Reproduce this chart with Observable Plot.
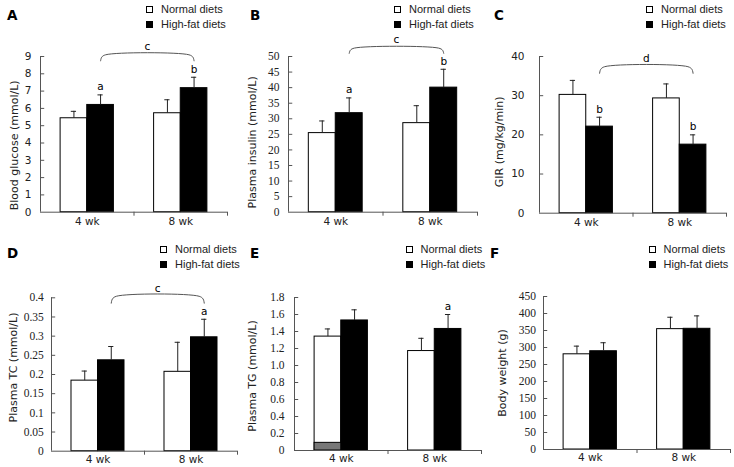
<!DOCTYPE html>
<html><head><meta charset="utf-8">
<script src="https://cdn.jsdelivr.net/npm/d3@7"></script>
<script src="https://cdn.jsdelivr.net/npm/@observablehq/plot@0.6"></script>
<style>
body{margin:0;background:#fff;}
#fig{position:relative;width:734px;height:467px;overflow:hidden;background:#fff;}
.panel{position:absolute;}
.panel svg{overflow:visible;}
.letter{position:absolute;font:bold 13.5px "DejaVu Sans",sans-serif;color:#000;line-height:16px;}
.leg{position:absolute;font:11px "Liberation Sans",sans-serif;color:#222;line-height:15px;white-space:nowrap;}
.leg .sw{display:inline-block;width:5px;height:5px;border:1px solid #000;margin-right:8px;vertical-align:0px;}
</style></head><body><div id="fig"></div>
<script>
// ---- shared categories ----
const weeks = ["4 wk", "8 wk"];
const series = ["Normal diets", "High-fat diets"];

// ---- A: Blood glucose ----
const aNormal = [5.43, 5.72];
const aNormalSE = [0.40, 0.78];
const aHF = [6.20, 7.17];
const aHFSE = [0.58, 0.63];
const aNormalSig = ["", ""];
const aHFSig = ["a", "b"];
const aTicks = [0, 1, 2, 3, 4, 5, 6, 7, 8, 9];
const aTickLabels = ["0", "1", "2", "3", "4", "5", "6", "7", "8", "9"];
const aBracket = [9.1, 8.75, "c"];

// ---- B: Plasma insulin ----
const bNormal = [25.4, 28.6];
const bNormalSE = [3.9, 5.6];
const bHF = [31.8, 40.0];
const bHFSE = [4.9, 5.9];
const bNormalSig = ["", ""];
const bHFSig = ["a", "b"];
const bTicks = [0, 5, 10, 15, 20, 25, 30, 35, 40, 45, 50];
const bTickLabels = ["0", "5", "10", "15", "20", "25", "30", "35", "40", "45", "50"];
const bBracket = [52.7, 51.0, "c"];

// ---- C: GIR ----
const cNormal = [30.2, 29.3];
const cNormalSE = [3.7, 3.7];
const cHF = [22.1, 17.5];
const cHFSE = [2.4, 2.5];
const cNormalSig = ["", ""];
const cHFSig = ["b", "b"];
const cTicks = [0, 10, 20, 30, 40];
const cTickLabels = ["0", "10", "20", "30", "40"];
const cBracket = [37.4, 35.7, "d"];

// ---- D: Plasma TC ----
const dNormal = [0.184, 0.207];
const dNormalSE = [0.025, 0.077];
const dHF = [0.237, 0.297];
const dHFSE = [0.036, 0.047];
const dNormalSig = ["", ""];
const dHFSig = ["", "a"];
const dTicks = [0, 0.05, 0.1, 0.15, 0.2, 0.25, 0.3, 0.35, 0.4];
const dTickLabels = ["0", "0.05", "0.1", "0.15", "0.2", "0.25", "0.3", "0.35", "0.4"];
const dBracket = [0.404, 0.386, "c"];

// ---- E: Plasma TG ----
const eNormal = [1.34, 1.17];
const eNormalSE = [0.09, 0.15];
const eHF = [1.53, 1.43];
const eHFSE = [0.125, 0.17];
const eNormalSig = ["", ""];
const eHFSig = ["", "a"];
const eGrey = [0.09, 0];   // grey patch at foot of the normal 4 wk bar
const eTicks = [0, 0.2, 0.4, 0.6, 0.8, 1.0, 1.2, 1.4, 1.6, 1.8];
const eTickLabels = ["0", "0.2", "0.4", "0.6", "0.8", "1.0", "1.2", "1.4", "1.6", "1.8"];

// ---- F: Body weight ----
const fNormal = [280, 354];
const fNormalSE = [24, 35];
const fHF = [289, 355];
const fHFSE = [25, 38];
const fNormalSig = ["", ""];
const fHFSig = ["", ""];
const fTicks = [0, 50, 100, 150, 200, 250, 300, 350, 400, 450];
const fTickLabels = ["0", "50", "100", "150", "200", "250", "300", "350", "400", "450"];

// ---- panel definitions (data + layout) ----
const SANS = "DejaVu Sans";
const SERIF = "Liberation Serif";
const panels = [
  {id: "A", yLabel: "Blood glucose (mmol/L)", normal: aNormal, normalSE: aNormalSE, hf: aHF, hfSE: aHFSE,
   normalSig: aNormalSig, hfSig: aHFSig, ticks: aTicks, tickLabels: aTickLabels, bracket: aBracket,
   tickFont: SANS, tickFontSize: 10.5,
   pos: {left: 0, top: 0, width: 240, height: 235, ml: 40, mr: 13, mt: 56, mb: 23.3, tickPad: 9, labelOff: 30.5, labelDy: 11, xPad: 5},
   letter: [7, 7], legend: [146, 2]},
  {id: "B", yLabel: "Plasma insulin (mmol/L)", normal: bNormal, normalSE: bNormalSE, hf: bHF, hfSE: bHFSE,
   normalSig: bNormalSig, hfSig: bHFSig, ticks: bTicks, tickLabels: bTickLabels, bracket: bBracket,
   tickFont: SERIF, tickFontSize: 11.5,
   pos: {left: 240, top: 0, width: 240, height: 235, ml: 48, mr: 3, mt: 56, mb: 23.3, tickPad: 9, labelOff: 40, labelDy: 8, xPad: 5},
   letter: [250, 7], legend: [394, 2]},
  {id: "C", yLabel: "GIR (mg/kg/min)", normal: cNormal, normalSE: cNormalSE, hf: cHF, hfSE: cHFSE,
   normalSig: cNormalSig, hfSig: cHFSig, ticks: cTicks, tickLabels: cTickLabels, bracket: cBracket,
   tickFont: SANS, tickFontSize: 10.5,
   pos: {left: 480, top: 0, width: 254, height: 235, ml: 59, mr: 8, mt: 56, mb: 22.3, tickPad: 15, labelOff: 44, labelDy: 7, xPad: 5},
   letter: [494, 7], legend: [646, 2]},
  {id: "D", yLabel: "Plasma TC (mmol/L)", normal: dNormal, normalSE: dNormalSE, hf: dHF, hfSE: dHFSE,
   normalSig: dNormalSig, hfSig: dHFSig, ticks: dTicks, tickLabels: dTickLabels, bracket: dBracket,
   tickFont: SERIF, tickFontSize: 11.5,
   pos: {left: 0, top: 235, width: 245, height: 232, ml: 51, mr: 8, mt: 62.3, mb: 16.3, tickPad: 7.7, labelOff: 42.7, labelDy: -7, xPad: 4},
   letter: [7, 245], legend: [160, 242]},
  {id: "E", yLabel: "Plasma TG (mmol/L)", normal: eNormal, normalSE: eNormalSE, hf: eHF, hfSE: eHFSE,
   normalSig: eNormalSig, hfSig: eHFSig, ticks: eTicks, tickLabels: eTickLabels, bracket: null, grey: eGrey,
   tickFont: SERIF, tickFontSize: 11.5,
   pos: {left: 245, top: 235, width: 245, height: 232, ml: 49, mr: 9, mt: 62, mb: 17, tickPad: 10, labelOff: 46, labelDy: 2, xPad: 4},
   letter: [250, 245], legend: [405.5, 241.5]},
  {id: "F", yLabel: "Body weight (g)", normal: fNormal, normalSE: fNormalSE, hf: fHF, hfSE: fHFSE,
   normalSig: fNormalSig, hfSig: fHFSig, ticks: fTicks, tickLabels: fTickLabels, bracket: null,
   tickFont: SERIF, tickFontSize: 11.5,
   pos: {left: 490, top: 235, width: 244, height: 232, ml: 53, mr: 4, mt: 61, mb: 18, tickPad: 7.6, labelOff: 45, labelDy: 0, xPad: 4},
   letter: [490, 245], legend: [648.5, 241.5]}
];

// styles (band-relative widths)
const BW = 0.285;   // bar width, as a fraction of one week band
const CAP = 0.028;  // half width of an error-bar cap
const TICK = 0.045; // y tick length (inside)
const AXIS = "#555";
const INK = "#222";

const fig = document.getElementById("fig");

for (const p of panels) {
  const rows = [];
  weeks.forEach((w, i) => {
    const c = i + 0.5;
    rows.push({week: w, diet: series[0], x1: c - BW, x2: c, xc: c - BW / 2,
               mean: p.normal[i], top: p.normal[i] + p.normalSE[i], sig: p.normalSig[i],
               grey: p.grey ? p.grey[i] : 0});
    rows.push({week: w, diet: series[1], x1: c, x2: c + BW, xc: c + BW / 2,
               mean: p.hf[i], top: p.hf[i] + p.hfSE[i], sig: p.hfSig[i], grey: 0});
  });
  const yMax = p.ticks[p.ticks.length - 1];
  const labelOf = new Map(p.ticks.map((t, i) => [t, p.tickLabels[i]]));

  const marks = [
    Plot.rect(rows, {x1: "x1", x2: "x2", y1: d => 0, y2: "mean", fill: "diet", stroke: "#000", strokeWidth: 1}),
    Plot.rect(rows.filter(d => d.grey > 0), {x1: "x1", x2: "x2", y1: d => 0, y2: "grey", fill: "#777", stroke: "#000", strokeWidth: 1}),
    Plot.ruleX(rows, {x: "xc", y1: "mean", y2: "top", stroke: INK, strokeWidth: 1}),
    Plot.ruleY(rows, {y: "top", x1: d => d.xc - CAP, x2: d => d.xc + CAP, stroke: INK, strokeWidth: 1}),
    Plot.text(rows.filter(d => d.sig), {x: "xc", y: "top", text: "sig", dy: -8, fontSize: 10.5, fontFamily: SANS, fill: "#000"}),
    // axis lines
    Plot.ruleX([0], {stroke: AXIS}),
    Plot.ruleY([0], {stroke: AXIS}),
    // y ticks (inside) and labels
    Plot.ruleY(p.ticks.filter(t => t > 0), {y: d => d, x1: d => 0, x2: d => TICK, stroke: AXIS}),
    Plot.axisY({ticks: p.ticks, tickSize: 0, tickPadding: p.pos.tickPad, tickFormat: d => labelOf.get(d),
                fontFamily: p.tickFont, fontSize: p.tickFontSize, fill: INK, label: null}),
    Plot.text([p.yLabel], {frameAnchor: "left", rotate: -90, text: d => d, lineAnchor: "top", textAnchor: "middle",
                dx: -p.pos.labelOff, dy: p.pos.labelDy, fontFamily: SANS, fontSize: 11, fill: INK}),
    // x axis: boundary ticks and week labels
    Plot.axisX({ticks: [1, 2], tickSize: 4, tickFormat: () => "", label: null, stroke: AXIS}),
    Plot.axisX({ticks: weeks.map((w, i) => i + 0.5), tickSize: 0, tickPadding: p.pos.xPad,
                tickFormat: d => weeks[Math.floor(d)], fontFamily: SANS, fontSize: 10.5, fill: INK, label: null})
  ];

  if (p.bracket) {
    const [top, low, lab] = p.bracket;
    const x0 = 0.5 + BW / 2, x1 = 1.5 + BW / 2;
    const pts = [
      {x: x0, y: low},
      {x: x0 + 0.012, y: low + (top - low) * 0.6},
      {x: x0 + 0.055, y: top},
      {x: x1 - 0.055, y: top},
      {x: x1 - 0.012, y: low + (top - low) * 0.6},
      {x: x1, y: low}
    ];
    marks.push(Plot.line(pts, {x: "x", y: "y", curve: "catmull-rom", stroke: AXIS, strokeWidth: 1}));
    marks.push(Plot.text([lab], {x: d => (x0 + x1) / 2, y: d => top, text: d => d, dy: -8, fontSize: 10.5, fontFamily: SANS, fill: "#000"}));
  }

  const svg = Plot.plot({
    width: p.pos.width, height: p.pos.height,
    marginLeft: p.pos.ml, marginRight: p.pos.mr, marginTop: p.pos.mt, marginBottom: p.pos.mb,
    x: {type: "linear", domain: [0, weeks.length], axis: null},
    y: {domain: [0, yMax], axis: null},
    color: {domain: series, range: ["#ffffff", "#000000"]},
    style: {background: "transparent", overflow: "visible", color: INK},
    marks
  });
  const holder = document.createElement("div");
  holder.className = "panel";
  holder.style.left = p.pos.left + "px";
  holder.style.top = p.pos.top + "px";
  holder.appendChild(svg);
  fig.appendChild(holder);

  const L = document.createElement("div");
  L.className = "letter";
  L.style.left = p.letter[0] + "px";
  L.style.top = p.letter[1] + "px";
  L.textContent = p.id;
  fig.appendChild(L);

  const G = document.createElement("div");
  G.className = "leg";
  G.style.left = p.legend[0] + "px";
  G.style.top = p.legend[1] + "px";
  G.innerHTML = series.map((s, i) =>
    `<div><span class="sw" style="background:${i === 0 ? "#fff" : "#000"}"></span>${s}</div>`).join("");
  fig.appendChild(G);
}
</script></body></html>
